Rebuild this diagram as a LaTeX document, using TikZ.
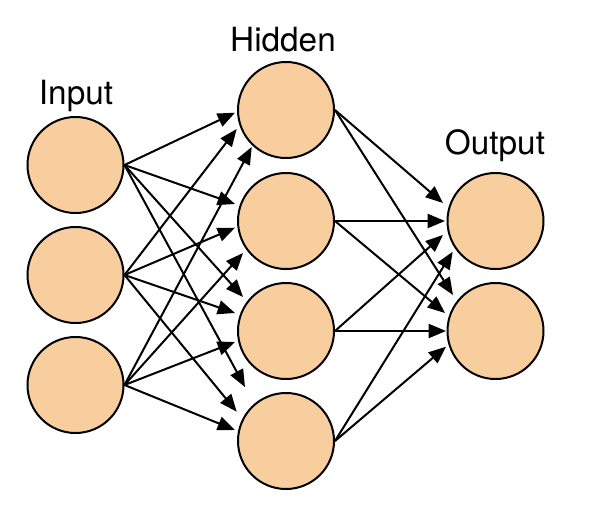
\documentclass[tikz,border=0pt]{standalone}
\usepackage{fontspec}
\setmainfont{TeX Gyre Heros}
\usetikzlibrary{calc,arrows.meta}
\definecolor{neuron}{HTML}{F8CE9E}
\begin{document}
\begin{tikzpicture}[x=0.75pt,y=-0.75pt,
  neuronnode/.style={circle,draw=black,fill=neuron,line width=1.5pt,minimum size=72pt,inner sep=0pt},
  layerlabel/.style={anchor=base,inner sep=0pt,font=\fontsize{25}{29}\selectfont},
  conn/.style={line width=1.5pt,-{Triangle[length=13pt,width=10.5pt]}}]
\useasboundingbox (0,0) rectangle (597,515);
% nodes
\node[neuronnode] (i1) at (75.5,165) {};
\node[neuronnode] (i2) at (75.5,275) {};
\node[neuronnode] (i3) at (75.5,385) {};
\node[neuronnode] (h1) at (286,110) {};
\node[neuronnode] (h2) at (286,221) {};
\node[neuronnode] (h3) at (286,331) {};
\node[neuronnode] (h4) at (286,441) {};
\node[neuronnode] (o1) at (495.5,221) {};
\node[neuronnode] (o2) at (495.5,331) {};
% labels
\node[layerlabel] (linput) at (76,104) {Input};
\node[layerlabel] (lhidden) at (283,51) {Hidden};
\node[layerlabel] (loutput) at (495,154) {Output};
% input -> hidden
\draw[conn] (i1.east) -- ($(h1)+(-51,2.7)$);
\draw[conn] (i2.east) -- ($(h1)+(-49.3,19)$);
\draw[conn] (i3.east) -- ($(h1)+(-34.3,37)$);
\draw[conn] (i1.east) -- ($(h2)+(-51,-17)$);
\draw[conn] (i2.east) -- ($(h2)+(-51,6.7)$);
\draw[conn] (i3.east) -- ($(h2)+(-43,32)$);
\draw[conn] (i1.east) -- ($(h3)+(-43,-34)$);
\draw[conn] (i2.east) -- ($(h3)+(-51,-18)$);
\draw[conn] (i3.east) -- ($(h3)+(-51,11)$);
\draw[conn] (i1.east) -- ($(h4)+(-41,-54)$);
\draw[conn] (i2.east) -- ($(h4)+(-49.3,-29.3)$);
\draw[conn] (i3.east) -- ($(h4)+(-51,-11)$);
% hidden -> output
\draw[conn] (h1.east) -- ($(o1)+(-52.5,-18)$);
\draw[conn] (h2.east) -- ($(o1)+(-50.5,0)$);
\draw[conn] (h3.east) -- ($(o1)+(-52.5,14)$);
\draw[conn] (h4.east) -- ($(o1)+(-42.8,30.7)$);
\draw[conn] (h1.east) -- ($(o2)+(-42.5,-36)$);
\draw[conn] (h2.east) -- ($(o2)+(-50.5,-18)$);
\draw[conn] (h3.east) -- ($(o2)+(-49.5,0)$);
\draw[conn] (h4.east) -- ($(o2)+(-49.5,15.7)$);
\end{tikzpicture}
\end{document}
